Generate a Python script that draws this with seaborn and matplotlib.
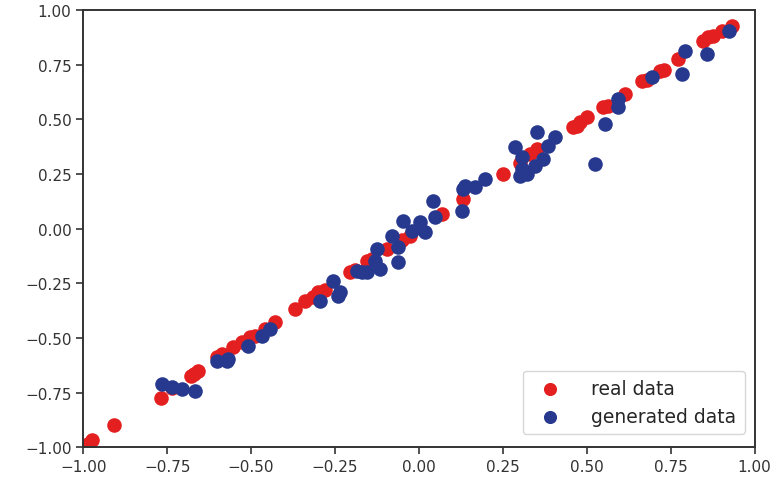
import matplotlib
matplotlib.use("Agg")
import matplotlib.pyplot as plt
import seaborn as sns
import numpy as np
import pandas as pd

# real data (red)
real_x = [-0.985, -0.973, -0.908, -0.768, -0.735, -0.680, -0.670, -0.658, -0.601, -0.586,
          -0.554, -0.527, -0.503, -0.488, -0.460, -0.429, -0.369, -0.339, -0.315, -0.300,
          -0.280, -0.205, -0.190, -0.155, -0.140, -0.095, -0.050, -0.027, 0.068, 0.131,
          0.250, 0.300, 0.330, 0.351, 0.458, 0.470, 0.479, 0.500, 0.548, 0.562,
          0.613, 0.664, 0.680, 0.717, 0.730, 0.771, 0.845, 0.860, 0.875, 0.902, 0.932]
real_y = [-0.986, -0.968, -0.899, -0.776, -0.730, -0.675, -0.665, -0.652, -0.588, -0.574,
          -0.542, -0.519, -0.497, -0.492, -0.460, -0.428, -0.368, -0.332, -0.314, -0.290,
          -0.280, -0.199, -0.190, -0.149, -0.140, -0.094, -0.050, -0.034, 0.066, 0.135,
          0.249, 0.300, 0.341, 0.364, 0.465, 0.472, 0.487, 0.510, 0.556, 0.561,
          0.616, 0.675, 0.680, 0.721, 0.725, 0.776, 0.858, 0.876, 0.881, 0.904, 0.927]

# generated data (blue)
gen_x = [-0.765, -0.735, -0.705, -0.667, -0.601, -0.571, -0.568, -0.509, -0.467, -0.443,
         -0.295, -0.256, -0.240, -0.235, -0.185, -0.170, -0.155, -0.130, -0.125, -0.116,
         -0.080, -0.062, -0.062, -0.048, -0.021, 0.003, 0.018, 0.042, 0.048, 0.128,
         0.131, 0.137, 0.167, 0.196, 0.286, 0.300, 0.307, 0.307, 0.321, 0.345,
         0.351, 0.369, 0.384, 0.405, 0.524, 0.554, 0.592, 0.592, 0.693, 0.783,
         0.792, 0.857, 0.923]
gen_y = [-0.712, -0.725, -0.735, -0.744, -0.606, -0.606, -0.597, -0.538, -0.492, -0.460,
         -0.332, -0.240, -0.310, -0.291, -0.195, -0.200, -0.199, -0.150, -0.094, -0.185,
         -0.034, -0.085, -0.153, 0.034, -0.011, 0.030, -0.016, 0.126, 0.053, 0.080,
         0.181, 0.195, 0.190, 0.227, 0.373, 0.240, 0.327, 0.272, 0.249, 0.286,
         0.442, 0.318, 0.378, 0.419, 0.295, 0.478, 0.593, 0.556, 0.693, 0.707,
         0.812, 0.799, 0.904]

real_df = pd.DataFrame({"x": real_x, "y": real_y})
gen_df = pd.DataFrame({"x": gen_x, "y": gen_y})

sns.set_style("ticks")
plt.rcParams["font.family"] = ["DejaVu Sans"]

fig, ax = plt.subplots(figsize=(7.78, 4.85), dpi=100)
fig.subplots_adjust(left=0.107, right=0.970, top=0.977, bottom=0.076)

sns.scatterplot(data=real_df, x="x", y="y", color="#e3201f", s=110, linewidth=0,
                label="real data", ax=ax)
sns.scatterplot(data=gen_df, x="x", y="y", color="#27398f", s=110, linewidth=0,
                label="generated data", ax=ax)

ax.set_xlim(-1, 1)
ax.set_ylim(-1, 1)
ticks = np.arange(-1.0, 1.01, 0.25)
ax.set_xticks(ticks)
ax.set_yticks(ticks)
ax.set_xlabel("")
ax.set_ylabel("")
ax.tick_params(labelsize=11, length=5, width=1.2, colors="#333333")
for sp in ax.spines.values():
    sp.set_visible(True)
    sp.set_linewidth(1.4)
    sp.set_color("#333333")

ax.legend(loc="lower right", fontsize=13.5, frameon=True, borderpad=0.45,
          handletextpad=1.2, labelspacing=0.45, markerscale=0.9,
          borderaxespad=0, bbox_to_anchor=(0.985, 0.03))

fig.savefig("out.png", dpi=100)
